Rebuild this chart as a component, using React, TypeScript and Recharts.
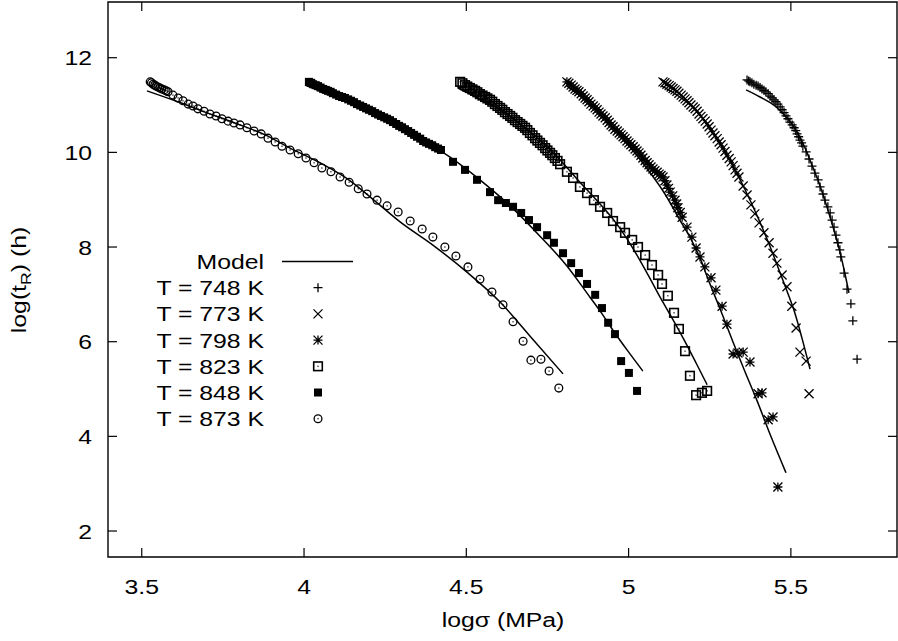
import React from 'react'
import { ComposedChart, Scatter, Line, XAxis, YAxis, ReferenceArea, Legend } from 'recharts'

const W = 898
const H = 641
const FONT = '"Liberation Sans", Arial, Helvetica, sans-serif'
const INK = '#000000'

const X_DOMAIN: [number, number] = [3.396, 5.827]
const Y_DOMAIN: [number, number] = [1.451, 13.177]
const X_TICKS = [3.5, 4, 4.5, 5, 5.5]
const Y_TICKS = [2, 4, 6, 8, 10, 12]

// [log sigma, log tR]
const t748: [number, number][] = [
  [5.365, 11.53], [5.370, 11.51], [5.374, 11.49], [5.380, 11.47], [5.386, 11.44], [5.393, 11.42],
  [5.399, 11.40], [5.405, 11.37], [5.411, 11.34], [5.417, 11.31], [5.423, 11.28], [5.430, 11.24],
  [5.436, 11.19], [5.442, 11.15], [5.448, 11.11], [5.454, 11.07], [5.460, 11.02], [5.467, 10.96],
  [5.473, 10.90], [5.479, 10.84], [5.485, 10.77], [5.491, 10.71], [5.497, 10.64], [5.504, 10.58],
  [5.510, 10.52], [5.515, 10.46], [5.519, 10.39], [5.524, 10.33], [5.528, 10.26], [5.533, 10.20],
  [5.537, 10.13], [5.547, 10.01], [5.556, 9.86],
  [5.565, 9.71], [5.574, 9.56], [5.584, 9.42], [5.590, 9.27], [5.599, 9.12], [5.605, 8.99],
  [5.614, 8.85], [5.621, 8.72], [5.627, 8.57], [5.633, 8.42], [5.639, 8.25], [5.645, 8.09],
  [5.651, 7.94], [5.654, 7.79], [5.664, 7.45], [5.673, 7.11], [5.685, 6.80], [5.691, 6.44],
  [5.704, 5.63],
]
const t773: [number, number][] = [
  [5.106, 11.49], [5.112, 11.47], [5.118, 11.44], [5.125, 11.41], [5.131, 11.38], [5.137, 11.35],
  [5.143, 11.32], [5.149, 11.29], [5.155, 11.25], [5.162, 11.21], [5.168, 11.17], [5.174, 11.13],
  [5.180, 11.09], [5.186, 11.05], [5.192, 11.00], [5.199, 10.96], [5.205, 10.92], [5.211, 10.87],
  [5.217, 10.81], [5.223, 10.76], [5.229, 10.71], [5.236, 10.66], [5.242, 10.60], [5.248, 10.54],
  [5.254, 10.47], [5.260, 10.41], [5.266, 10.35], [5.273, 10.29], [5.279, 10.22], [5.285, 10.16],
  [5.291, 10.09], [5.297, 10.02], [5.303, 9.94], [5.310, 9.87], [5.316, 9.80], [5.322, 9.72],
  [5.328, 9.63], [5.334, 9.56], [5.340, 9.48], [5.353, 9.29], [5.365, 9.10], [5.377, 8.89],
  [5.389, 8.70], [5.402, 8.51], [5.417, 8.30], [5.433, 8.09], [5.445, 7.87], [5.457, 7.66],
  [5.473, 7.41], [5.488, 7.16], [5.503, 6.75], [5.516, 6.29], [5.528, 5.78], [5.547, 5.59],
  [5.556, 4.90],
]
const t798: [number, number][] = [
  [4.810, 11.49], [4.816, 11.46], [4.823, 11.42], [4.829, 11.38], [4.835, 11.34], [4.841, 11.31],
  [4.847, 11.28], [4.854, 11.24], [4.860, 11.19], [4.866, 11.15], [4.872, 11.11], [4.878, 11.07],
  [4.884, 11.02], [4.891, 10.98], [4.897, 10.94], [4.903, 10.90], [4.909, 10.85], [4.915, 10.81],
  [4.921, 10.77], [4.928, 10.73], [4.934, 10.68], [4.940, 10.63], [4.946, 10.58], [4.952, 10.54],
  [4.958, 10.49], [4.965, 10.45], [4.971, 10.41], [4.977, 10.37], [4.983, 10.33], [4.989, 10.29],
  [4.995, 10.24], [5.001, 10.20], [5.007, 10.16], [5.014, 10.12], [5.020, 10.07], [5.026, 10.03],
  [5.032, 9.99], [5.038, 9.94], [5.044, 9.88], [5.051, 9.83], [5.057, 9.78], [5.063, 9.74],
  [5.069, 9.69], [5.075, 9.65], [5.081, 9.61], [5.088, 9.58], [5.094, 9.54], [5.100, 9.51],
  [5.106, 9.48], [5.112, 9.40], [5.118, 9.31], [5.123, 9.24], [5.128, 9.16], [5.136, 9.08],
  [5.143, 8.99], [5.148, 8.91], [5.152, 8.83], [5.159, 8.73], [5.165, 8.63], [5.180, 8.42],
  [5.195, 8.21], [5.208, 7.98], [5.220, 7.79], [5.235, 7.58], [5.254, 7.35], [5.269, 7.09],
  [5.288, 6.75], [5.303, 6.37], [5.322, 5.74], [5.337, 5.76], [5.353, 5.78], [5.374, 5.57],
  [5.399, 4.90], [5.411, 4.92], [5.430, 4.35], [5.445, 4.41], [5.460, 2.93],
]
const t823: [number, number][] = [
  [4.481, 11.49], [4.488, 11.46], [4.496, 11.42], [4.503, 11.39], [4.511, 11.36], [4.519, 11.33],
  [4.527, 11.30], [4.534, 11.27], [4.542, 11.23], [4.550, 11.20], [4.558, 11.17], [4.565, 11.14],
  [4.573, 11.11], [4.580, 11.07], [4.588, 11.02], [4.596, 10.98], [4.604, 10.94], [4.611, 10.90],
  [4.619, 10.85], [4.627, 10.81], [4.635, 10.77], [4.642, 10.73], [4.650, 10.68], [4.658, 10.64],
  [4.666, 10.60], [4.673, 10.56], [4.681, 10.52], [4.688, 10.47], [4.696, 10.41], [4.704, 10.36],
  [4.712, 10.30], [4.719, 10.25], [4.727, 10.20], [4.735, 10.15], [4.743, 10.09], [4.750, 10.04],
  [4.758, 9.99], [4.765, 9.94], [4.773, 9.88], [4.781, 9.82], [4.789, 9.75], [4.810, 9.59],
  [4.829, 9.46], [4.850, 9.27], [4.872, 9.14], [4.893, 8.99], [4.912, 8.85], [4.934, 8.72],
  [4.952, 8.55], [4.974, 8.42], [4.989, 8.30], [5.011, 8.15], [5.029, 8.00], [5.051, 7.83],
  [5.072, 7.62], [5.091, 7.41], [5.103, 7.22], [5.121, 6.97], [5.140, 6.61], [5.155, 6.27],
  [5.174, 5.80], [5.189, 5.28], [5.208, 4.87], [5.226, 4.92], [5.242, 4.96],
]
const t848: [number, number][] = [
  [4.015, 11.49], [4.022, 11.47], [4.028, 11.44], [4.036, 11.42], [4.043, 11.40], [4.051, 11.37],
  [4.059, 11.34], [4.067, 11.32], [4.074, 11.30], [4.082, 11.28], [4.089, 11.25], [4.099, 11.22],
  [4.108, 11.19], [4.117, 11.17], [4.126, 11.15], [4.136, 11.12], [4.145, 11.09], [4.154, 11.06],
  [4.163, 11.02], [4.173, 10.99], [4.182, 10.96], [4.191, 10.93], [4.200, 10.90], [4.210, 10.87],
  [4.219, 10.83], [4.228, 10.80], [4.237, 10.77], [4.247, 10.74], [4.256, 10.71], [4.265, 10.68],
  [4.274, 10.64], [4.284, 10.60], [4.293, 10.56], [4.302, 10.53], [4.311, 10.49], [4.321, 10.45],
  [4.330, 10.41], [4.339, 10.37], [4.348, 10.33], [4.358, 10.29], [4.367, 10.24], [4.376, 10.21],
  [4.385, 10.18], [4.395, 10.15], [4.404, 10.11], [4.413, 10.08], [4.422, 10.05],
  [4.459, 9.80], [4.496, 9.63], [4.533, 9.42], [4.573, 9.16], [4.598, 8.99], [4.622, 8.93],
  [4.644, 8.85], [4.669, 8.72], [4.693, 8.57], [4.718, 8.42], [4.749, 8.25], [4.770, 8.09],
  [4.798, 7.87], [4.823, 7.66], [4.847, 7.45], [4.872, 7.22], [4.897, 6.99], [4.918, 6.71],
  [4.937, 6.40], [4.958, 6.16], [4.977, 5.59], [5.001, 5.34], [5.026, 4.96],
]
const t873: [number, number][] = [
  [3.526, 11.49], [3.530, 11.47], [3.535, 11.44], [3.540, 11.42], [3.544, 11.40], [3.550, 11.38],
  [3.556, 11.36], [3.562, 11.34], [3.569, 11.32], [3.575, 11.30], [3.581, 11.28],
  [3.596, 11.21], [3.612, 11.15], [3.627, 11.09], [3.643, 11.02], [3.658, 10.98], [3.673, 10.92],
  [3.692, 10.87], [3.710, 10.81], [3.729, 10.77], [3.747, 10.71], [3.766, 10.66], [3.784, 10.62],
  [3.803, 10.58], [3.824, 10.52], [3.846, 10.45], [3.868, 10.39], [3.889, 10.30], [3.911, 10.22],
  [3.932, 10.13], [3.957, 10.05], [3.982, 9.97], [4.006, 9.88], [4.031, 9.78], [4.055, 9.67],
  [4.083, 9.59], [4.111, 9.48], [4.139, 9.37], [4.167, 9.23], [4.194, 9.12], [4.225, 8.99],
  [4.256, 8.87], [4.290, 8.74], [4.327, 8.55], [4.364, 8.38], [4.397, 8.21], [4.434, 8.00],
  [4.468, 7.81], [4.505, 7.58], [4.542, 7.32], [4.579, 7.05], [4.613, 6.78], [4.644, 6.42],
  [4.675, 6.01], [4.699, 5.61], [4.730, 5.63], [4.755, 5.38], [4.785, 5.02],
]

// model curves
const m748: [number, number][] = [
  [5.362, 11.32], [5.405, 11.17], [5.451, 10.98], [5.488, 10.73], [5.519, 10.43], [5.544, 10.09],
  [5.565, 9.73], [5.590, 9.29], [5.611, 8.85], [5.630, 8.42], [5.648, 7.98], [5.664, 7.52],
  [5.679, 7.03],
]
const m773: [number, number][] = [
  [5.103, 11.40], [5.158, 11.17], [5.205, 10.90], [5.251, 10.52], [5.288, 10.13], [5.322, 9.71],
  [5.359, 9.21], [5.396, 8.66], [5.430, 8.11], [5.460, 7.58], [5.488, 7.07], [5.513, 6.59],
  [5.534, 6.08], [5.559, 5.42],
]
const m798: [number, number][] = [
  [4.810, 11.40], [4.866, 11.11], [4.927, 10.71], [4.989, 10.24], [5.051, 9.71], [5.112, 9.12],
  [5.158, 8.57], [5.195, 8.13], [5.220, 7.77], [5.245, 7.32], [5.282, 6.69], [5.322, 5.99],
  [5.359, 5.36], [5.396, 4.75], [5.439, 3.99], [5.485, 3.23],
]
const m823: [number, number][] = [
  [4.474, 11.36], [4.542, 11.13], [4.604, 10.90], [4.666, 10.60], [4.727, 10.26], [4.789, 9.84],
  [4.850, 9.37], [4.912, 8.91], [4.961, 8.51], [5.011, 8.00], [5.060, 7.41], [5.097, 6.94],
  [5.134, 6.50], [5.171, 6.04], [5.208, 5.55], [5.242, 5.09],
]
const m848: [number, number][] = [
  [4.003, 11.42], [4.080, 11.21], [4.173, 10.96], [4.265, 10.66], [4.357, 10.30], [4.450, 9.90],
  [4.542, 9.42], [4.635, 8.87], [4.727, 8.23], [4.810, 7.60], [4.881, 6.94], [4.912, 6.65],
  [4.955, 6.21], [4.998, 5.80], [5.044, 5.38],
]
const m873: [number, number][] = [
  [3.516, 11.30], [3.603, 11.09], [3.695, 10.85], [3.787, 10.62], [3.880, 10.37], [3.957, 10.09],
  [4.049, 9.78], [4.142, 9.40], [4.219, 8.97], [4.296, 8.53], [4.397, 8.04], [4.502, 7.47],
  [4.604, 6.84], [4.706, 6.04], [4.798, 5.32],
]

const MODELS = [m748, m773, m798, m823, m848, m873]
const LABELS = ['T = 748 K', 'T = 773 K', 'T = 798 K', 'T = 823 K', 'T = 848 K', 'T = 873 K']

const toXY = (a: [number, number][]) => a.map(([x, y]) => ({ x, y }))

// plot box in page px (gnuplot frame)
const BOX = { left: 108, right: 897, top: 2, bottom: 557 }
const TICK = 9
const STRETCH = 1.18
const FS = 21

function Txt({ x, y, anchor = 'start', children }: any) {
  return (
    <g transform={`translate(${x},${y}) scale(${STRETCH},1)`}>
      <text x={0} y={0} textAnchor={anchor} fontFamily={FONT} fontSize={FS} fill={INK}>
        {children}
      </text>
    </g>
  )
}

// point types
const R = 4.5
const Plus = ({ cx, cy }: any) => (
  <path d={`M${cx - R},${cy}H${cx + R}M${cx},${cy - R}V${cy + R}`} stroke={INK} strokeWidth={1.3} fill="none" />
)
const Cross = ({ cx, cy }: any) => (
  <path d={`M${cx - R},${cy - R}L${cx + R},${cy + R}M${cx - R},${cy + R}L${cx + R},${cy - R}`} stroke={INK} strokeWidth={1.3} fill="none" />
)
const Star = ({ cx, cy }: any) => (
  <path
    d={`M${cx - R},${cy}H${cx + R}M${cx},${cy - R}V${cy + R}M${cx - R},${cy - R}L${cx + R},${cy + R}M${cx - R},${cy + R}L${cx + R},${cy - R}`}
    stroke={INK} strokeWidth={1.3} fill="none"
  />
)
const OpenSq = ({ cx, cy }: any) => (
  <g>
    <rect x={cx - 4.3} y={cy - 4.3} width={8.6} height={8.6} fill="none" stroke={INK} strokeWidth={1.6} />
    <rect x={cx - 0.6} y={cy - 0.6} width={1.2} height={1.2} fill={INK} />
  </g>
)
const FilledSq = ({ cx, cy }: any) => <rect x={cx - 4} y={cy - 4} width={8} height={8} fill={INK} />
const Ring = ({ cx, cy }: any) => (
  <g>
    <circle cx={cx} cy={cy} r={3.9} fill="none" stroke={INK} strokeWidth={1.3} />
    <rect x={cx - 0.6} y={cy - 0.6} width={1.2} height={1.2} fill={INK} />
  </g>
)

const SERIES = [
  { label: LABELS[0], pts: t748, Mark: Plus },
  { label: LABELS[1], pts: t773, Mark: Cross },
  { label: LABELS[2], pts: t798, Mark: Star },
  { label: LABELS[3], pts: t823, Mark: OpenSq },
  { label: LABELS[4], pts: t848, Mark: FilledSq },
  { label: LABELS[5], pts: t873, Mark: Ring },
]

function XTick(props: any) {
  const { x, payload } = props
  return (
    <g>
      <line x1={x} x2={x} y1={BOX.bottom} y2={BOX.bottom - TICK} stroke={INK} strokeWidth={1.2} />
      <line x1={x} x2={x} y1={BOX.top} y2={BOX.top + TICK} stroke={INK} strokeWidth={1.2} />
      <Txt x={x} y={594} anchor="middle">{String(payload.value)}</Txt>
    </g>
  )
}

function YTick(props: any) {
  const { y, payload } = props
  return (
    <g>
      <line x1={BOX.left} x2={BOX.left + TICK} y1={y} y2={y} stroke={INK} strokeWidth={1.2} />
      <line x1={BOX.right} x2={BOX.right - TICK} y1={y} y2={y} stroke={INK} strokeWidth={1.2} />
      <Txt x={92} y={y + 7.5} anchor="end">{String(payload.value)}</Txt>
    </g>
  )
}

const XTitle = () => (
  <Txt x={503} y={627} anchor="middle">log{'\u03c3'} (MPa)</Txt>
)

const YTitle = () => (
  <g transform={`translate(26,280) rotate(-90) scale(${STRETCH},1)`}>
    <text x={0} y={0} textAnchor="middle" fontFamily={FONT} fontSize={FS} fill={INK}>
      log(t<tspan dy={5} fontSize={15}>R</tspan><tspan dy={-5}>) (h)</tspan>
    </text>
  </g>
)

// key box, drawn in its own svg at page offset (130, 240)
const KX = 130
const KY = 240
function Key() {
  const row = (i: number) => 261.5 + i * 26.2 - KY
  return (
    <svg width={260} height={200} style={{ display: 'block', overflow: 'visible' }}>
      <Txt x={264 - KX} y={row(0) + 7.5} anchor="end">Model</Txt>
      <line x1={282 - KX} x2={353 - KX} y1={row(0)} y2={row(0)} stroke={INK} strokeWidth={1.5} />
      {SERIES.map((s, i) => (
        <g key={s.label}>
          <Txt x={264 - KX} y={row(i + 1) + 7.5} anchor="end">{s.label}</Txt>
          <s.Mark cx={318 - KX} cy={row(i + 1)} />
        </g>
      ))}
    </svg>
  )
}

export default function App() {
  return (
    <div style={{ position: 'absolute', left: 0, top: 0, width: W, height: H, background: '#fff' }}>
      <ComposedChart width={W} height={H} margin={{ top: 2, right: 1, left: 48, bottom: 0 }}>
        <XAxis
          dataKey="x"
          type="number"
          domain={X_DOMAIN}
          allowDataOverflow
          ticks={X_TICKS}
          interval={0}
          height={84}
          axisLine={false}
          tickLine={false}
          tick={<XTick />}
          label={<XTitle />}
        />
        <YAxis
          dataKey="y"
          type="number"
          domain={Y_DOMAIN}
          allowDataOverflow
          ticks={Y_TICKS}
          interval={0}
          width={60}
          axisLine={false}
          tickLine={false}
          tick={<YTick />}
          label={<YTitle />}
        />
        <ReferenceArea
          x1={X_DOMAIN[0]} x2={X_DOMAIN[1]} y1={Y_DOMAIN[0]} y2={Y_DOMAIN[1]}
          fill="none" fillOpacity={0} stroke={INK} strokeWidth={1.4} strokeOpacity={1}
          ifOverflow="visible"
        />
        {SERIES.map((s) => (
          <Scatter
            key={s.label}
            name={s.label}
            data={toXY(s.pts)}
            isAnimationActive={false}
            shape={(p: any) => <s.Mark cx={p.cx} cy={p.cy} />}
          />
        ))}
        {MODELS.map((m, i) => (
          <Line
            key={'model' + i}
            data={toXY(m)}
            dataKey="y"
            type="monotone"
            stroke={INK}
            strokeWidth={1.5}
            dot={false}
            activeDot={false}
            isAnimationActive={false}
          />
        ))}
        <Legend
          layout="vertical"
          align="center"
          verticalAlign="middle"
          wrapperStyle={{ position: 'absolute', left: KX, top: KY, width: 260, height: 200, margin: 0, padding: 0 }}
          content={() => <Key />}
        />
      </ComposedChart>
    </div>
  )
}
